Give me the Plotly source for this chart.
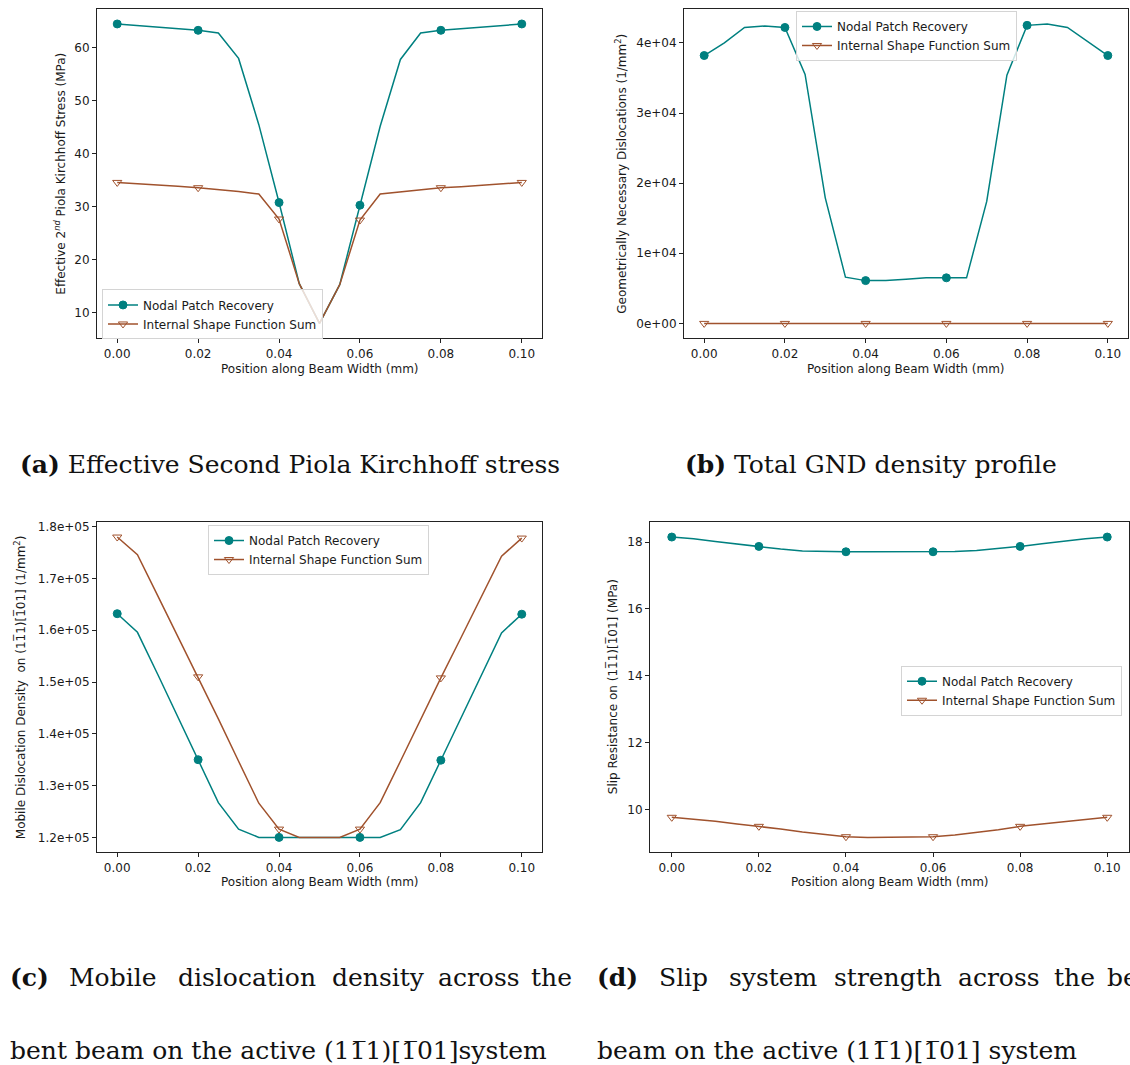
import plotly.graph_objects as go

# ---------------- data ----------------
position_mm = [0.000, 0.005, 0.010, 0.015, 0.020, 0.025, 0.030, 0.035, 0.040, 0.045, 0.050,
               0.055, 0.060, 0.065, 0.070, 0.075, 0.080, 0.085, 0.090, 0.095, 0.100]
marker_positions = [0.00, 0.02, 0.04, 0.06, 0.08, 0.10]

# (a) effective 2nd Piola Kirchhoff stress (MPa)
stress_npr = [64.5, 64.2, 63.9, 63.6, 63.3, 62.8, 58.0, 45.5, 30.8, 15.5, 8.0,
              15.3, 30.3, 45.2, 57.8, 62.8, 63.3, 63.6, 63.9, 64.2, 64.5]
stress_isfs = [34.6, 34.4, 34.2, 33.9, 33.6, 33.3, 32.9, 32.4, 27.7, 15.5, 8.0,
               15.3, 27.5, 32.4, 32.8, 33.2, 33.6, 33.8, 34.1, 34.4, 34.6]

# (b) total GND density (1/mm^2)
gnd_npr = [38200, 40000, 42200, 42400, 42200, 35500, 17900, 6600, 6100, 6100, 6300,
           6500, 6500, 6500, 17400, 35400, 42500, 42700, 42200, 40200, 38200]
gnd_isfs = [0] * 21

# (c) mobile dislocation density (1/mm^2)
mobile_npr = [163200, 159600, 151500, 143300, 135000, 126700, 121600, 120000, 120000, 120000, 120000,
              120000, 120000, 120000, 121500, 126700, 134900, 143100, 151300, 159500, 163100]
mobile_isfs = [178000, 174600, 166700, 158800, 151000, 142900, 134700, 126600, 121600, 120000, 120000,
               120000, 121600, 126700, 134700, 142800, 150800, 158600, 166500, 174300, 177800]

# (d) slip resistance (MPa)
slip_npr = [18.15, 18.10, 18.02, 17.94, 17.87, 17.79, 17.73, 17.71, 17.71, 17.71, 17.71,
            17.71, 17.71, 17.72, 17.75, 17.80, 17.87, 17.95, 18.03, 18.10, 18.15]
slip_isfs = [9.77, 9.72, 9.65, 9.57, 9.50, 9.42, 9.33, 9.25, 9.19, 9.17, 9.17,
             9.17, 9.19, 9.24, 9.31, 9.40, 9.50, 9.57, 9.65, 9.72, 9.77]

series_names = ["Nodal Patch Recovery", "Internal Shape Function Sum"]

x_ticks = [0.00, 0.02, 0.04, 0.06, 0.08, 0.10]
x_ticktext = ["0.00", "0.02", "0.04", "0.06", "0.08", "0.10"]
a_ticks = [10, 20, 30, 40, 50, 60]
b_ticks = [0, 10000, 20000, 30000, 40000]
b_ticktext = ["0e+00", "1e+04", "2e+04", "3e+04", "4e+04"]
c_ticks = [120000, 130000, 140000, 150000, 160000, 170000, 180000]
c_ticktext = ["1.2e+05", "1.3e+05", "1.4e+05", "1.5e+05", "1.6e+05", "1.7e+05", "1.8e+05"]
d_ticks = [10, 12, 14, 16, 18]

OB = "1\u0305"  # digit one with overbar
x_title = "Position along Beam Width (mm)"
y_titles = [
    "Effective 2<sup><i>nd</i></sup> Piola Kirchhoff Stress (MPa)",
    "Geometrically Necessary Dislocations (1/mm<sup>2</sup>)",
    f"Mobile Dislocation Density  on (1{OB}1)[{OB}01] (1/mm<sup>2</sup>)",
    f"Slip Resistance on (1{OB}1)[{OB}01] (MPa)",
]

# ---------------- layout geometry ----------------
W, H = 1130, 1065
TEAL = "#008080"
SIENNA = "#a0522d"
TXT = "#1a1a1a"
FS = 12


def px_x(p):
    return p / W


def px_y(p):
    return 1 - p / H


# axes frames in pixels: (left, right, top, bottom)
frames = [(97, 542, 7, 337), (684, 1128, 7, 337), (97, 542, 521, 852), (650, 1129, 521, 852)]
legend_pos = [(102, 288), (796, 9), (208, 524), (901, 665)]
ytitle_x = [60, 621, 20, 612]
xtitle_y = [368, 368, 882, 882]

panels = [
    (stress_npr, stress_isfs, a_ticks, [str(v) for v in a_ticks]),
    (gnd_npr, gnd_isfs, b_ticks, b_ticktext),
    (mobile_npr, mobile_isfs, c_ticks, c_ticktext),
    (slip_npr, slip_isfs, d_ticks, [str(v) for v in d_ticks]),
]

fig = go.Figure()
annotations = []
layout = dict(
    width=W, height=H, margin=dict(l=0, r=0, t=0, b=0),
    paper_bgcolor="white", plot_bgcolor="white", showlegend=True,
    font=dict(family="DejaVu Sans", size=FS, color=TXT),
)

for i, (npr, isfs, yt, ytt) in enumerate(panels):
    k = i + 1
    xa = "x" if k == 1 else f"x{k}"
    ya = "y" if k == 1 else f"y{k}"
    leg = "legend" if k == 1 else f"legend{k}"
    l, r, t, b = frames[i]

    lo = min(min(npr), min(isfs))
    hi = max(max(npr), max(isfs))
    pad = 0.05 * (hi - lo)

    axis_common = dict(
        showline=True, linecolor="#222", linewidth=1, mirror=True,
        ticks="outside", ticklen=4, tickcolor="#222", tickwidth=1,
        showgrid=False, zeroline=False,
        tickfont=dict(family="DejaVu Sans", size=FS, color=TXT),
    )
    layout["xaxis" if k == 1 else f"xaxis{k}"] = dict(
        domain=[px_x(l), px_x(r)], anchor=ya, range=[-0.005, 0.105],
        tickvals=x_ticks, ticktext=x_ticktext, **axis_common)
    layout["yaxis" if k == 1 else f"yaxis{k}"] = dict(
        domain=[px_y(b), px_y(t)], anchor=xa, range=[lo - pad, hi + pad],
        tickvals=yt, ticktext=ytt, **axis_common)

    lx, ly = legend_pos[i]
    layout[leg] = dict(
        x=px_x(lx), y=px_y(ly), xanchor="left", yanchor="top",
        bgcolor="rgba(255,255,255,0.8)", bordercolor="#d4d4d4", borderwidth=1,
        font=dict(family="DejaVu Sans", size=FS, color=TXT),
        tracegroupgap=0, itemwidth=30,
    )

    styles = [
        dict(color=TEAL, symbol="circle", size=8),
        dict(color=SIENNA, symbol="triangle-down-open", size=8),
    ]
    for name, vals, st in zip(series_names, (npr, isfs), styles):
        # full line through every sampled position
        fig.add_trace(go.Scatter(
            x=position_mm, y=vals, mode="lines", xaxis=xa, yaxis=ya,
            line=dict(color=st["color"], width=1.5), showlegend=False,
            legendgroup=f"{k}{name}", hoverinfo="skip"))
        # markers only on every fourth sample
        keep = [any(abs(x - m) < 1e-9 for m in marker_positions) for x in position_mm]
        mx = [x for x, kp in zip(position_mm, keep) if kp]
        my = [v for v, kp in zip(vals, keep) if kp]
        fig.add_trace(go.Scatter(
            x=mx, y=my, mode="markers", xaxis=xa, yaxis=ya,
            marker=dict(color=st["color"], symbol=st["symbol"], size=st["size"],
                        line=dict(color=st["color"], width=1)),
            showlegend=False, legendgroup=f"{k}{name}"))
        # legend entry (line + marker)
        fig.add_trace(go.Scatter(
            x=[None], y=[None], mode="lines+markers", xaxis=xa, yaxis=ya,
            name=name, legend=leg, legendgroup=f"{k}{name}",
            line=dict(color=st["color"], width=1.5),
            marker=dict(color=st["color"], symbol=st["symbol"], size=st["size"],
                        line=dict(color=st["color"], width=1))))

    # axis titles
    annotations.append(dict(
        text=x_title, x=px_x((l + r) / 2), y=px_y(xtitle_y[i]), xref="paper", yref="paper",
        showarrow=False, xanchor="center", yanchor="middle",
        font=dict(family="DejaVu Sans", size=FS, color=TXT)))
    annotations.append(dict(
        text=y_titles[i], x=px_x(ytitle_x[i]), y=px_y((t + b) / 2), xref="paper", yref="paper",
        showarrow=False, xanchor="center", yanchor="middle", textangle=-90,
        font=dict(family="DejaVu Sans", size=FS, color=TXT)))

# ---------------- sub-figure captions ----------------
CAP = dict(family="DejaVu Serif", size=25, color="#111")


def caption(text, xpx, ypx):
    annotations.append(dict(text=text, x=px_x(xpx), y=px_y(ypx), xref="paper", yref="paper",
                            showarrow=False, xanchor="left", yanchor="middle", font=CAP))


caption("<b>(a)</b> Effective Second Piola Kirchhoff stress", 18, 463)
caption("<b>(b)</b> Total GND density profile", 683, 463)

# first caption line of (c) and (d) is justified: place each word
words_row = [
    ("<b>(c)</b>", 8), ("Mobile", 67), ("dislocation", 176), ("density", 330),
    ("across", 436), ("the", 529),
    ("<b>(d)</b>", 595), ("Slip", 657), ("system", 727), ("strength", 832),
    ("across", 956), ("the", 1052), ("bent", 1105),
]
for w, xp in words_row:
    caption(w, xp, 977)

caption(f"bent beam on the active (1{OB}1)[{OB}01]system", 8, 1050)
caption(f"beam on the active (1{OB}1)[{OB}01] system", 595, 1050)

layout["annotations"] = annotations
fig.update_layout(**layout)
fig.write_html("out.html")
